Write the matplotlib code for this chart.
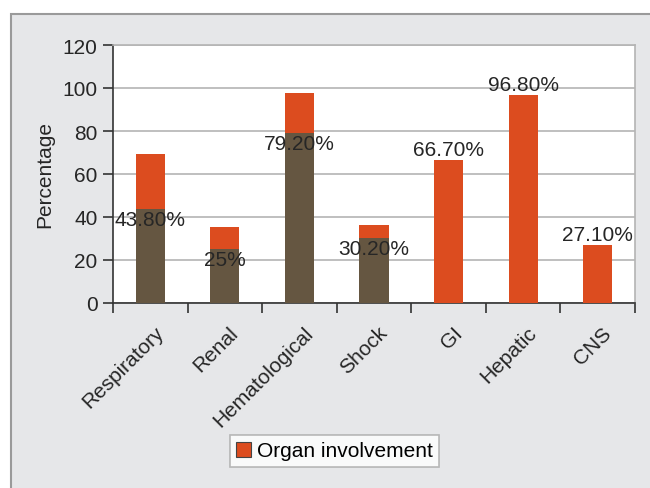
import matplotlib
matplotlib.use("Agg")
import matplotlib.pyplot as plt
from matplotlib.patches import Rectangle, Patch
from matplotlib.transforms import ScaledTranslation
import numpy as np

plt.rcParams['font.family'] = ['Liberation Sans', 'DejaVu Sans']

categories = ["Respiratory", "Renal", "Hematological", "Shock", "GI", "Hepatic", "CNS"]
# lower (labelled) segment of each bar
base_values = [43.8, 25.0, 79.2, 30.2, 0.0, 0.0, 0.0]
# full height of each bar
total_values = [69.5, 35.5, 97.5, 36.5, 66.7, 96.8, 27.1]
base_labels = ["43.80%", "25%", "79.20%", "30.20%", None, None, None]
top_labels = [None, None, None, None, "66.70%", "96.80%", "27.10%"]
yticks = [0, 20, 40, 60, 80, 100, 120]

BROWN = "#655641"
ORANGE = "#dc4c1f"
PANEL = "#e6e7e9"

fig = plt.figure(figsize=(6.5, 4.89), dpi=100, facecolor="white")

# grey panel with a thin frame
fig.add_artist(Rectangle((11 / 650, -0.2), 1.2, (489 - 15) / 489 + 0.2,
                         transform=fig.transFigure, facecolor=PANEL,
                         edgecolor="#9a9a9a", linewidth=1.5, zorder=0))

ax = fig.add_axes([113 / 650, (489 - 304) / 489, (635 - 113) / 650, (304 - 46) / 489])
ax.set_facecolor("white")

x = np.arange(len(categories))
upper = [t - b for t, b in zip(total_values, base_values)]
width = 0.39
ax.bar(x, base_values, width, color=BROWN, zorder=3)
ax.bar(x, upper, width, bottom=base_values, color=ORANGE, zorder=3)

fs = 15
for xi, b, lab in zip(x, base_values, base_labels):
    if lab:
        ax.annotate(lab, (xi, b), xytext=(0, -7.5), textcoords="offset points",
                    ha="center", va="center", fontsize=fs, color="#262626", zorder=5)
for xi, t, lab in zip(x, total_values, top_labels):
    if lab:
        ax.annotate(lab, (xi, t), xytext=(0, 0.5), textcoords="offset points",
                    ha="center", va="bottom", fontsize=fs, color="#262626", zorder=5)

ax.set_xlim(-0.5, len(categories) - 0.5)
ax.set_ylim(0, 120)
ax.set_yticks(yticks)
ax.set_yticklabels([str(v) for v in yticks], fontsize=fs, color="#262626")
ax.yaxis.grid(True, color="#b4b4b4", linewidth=1.2, zorder=1)
ax.set_axisbelow(True)

ax.set_xticks(x)
ax.set_xticks(np.arange(len(categories) + 1) - 0.5, minor=True)
ax.tick_params(axis="x", which="major", length=0, pad=12)
ax.tick_params(axis="x", which="minor", length=7, width=1.2, color="#333333", direction="out")
ax.tick_params(axis="y", length=7, width=1.2, color="#333333", direction="out", pad=4)
ax.set_xticklabels(categories, rotation=45, ha="right", rotation_mode="anchor",
                   fontsize=fs, color="#262626")
# nudge the slanted category names a little to the right and down
shift = ScaledTranslation(4 / 100, -3 / 100, fig.dpi_scale_trans)
for tick in ax.xaxis.get_major_ticks():
    tick.label1.set_transform(tick.label1.get_transform() + shift)

for side in ("top", "right"):
    ax.spines[side].set_color("#b4b4b4")
    ax.spines[side].set_linewidth(1.2)
for side in ("left", "bottom"):
    ax.spines[side].set_color("#333333")
    ax.spines[side].set_linewidth(1.2)

ax.set_ylabel("Percentage", fontsize=fs, color="#262626", labelpad=6)

handle = Patch(facecolor=ORANGE, edgecolor="#444444", linewidth=0.8)
leg = fig.legend([handle], ["Organ involvement"], loc="center",
                 bbox_to_anchor=(334.5 / 650, (489 - 452) / 489), fontsize=fs,
                 frameon=True, fancybox=False, edgecolor="#a8a8a8",
                 handlelength=0.7, handleheight=0.7, handletextpad=0.3,
                 borderpad=0.3, borderaxespad=0)
leg.get_frame().set_linewidth(1.2)
leg.get_frame().set_facecolor("white")

fig.savefig("out.png", dpi=100, facecolor=fig.get_facecolor())
